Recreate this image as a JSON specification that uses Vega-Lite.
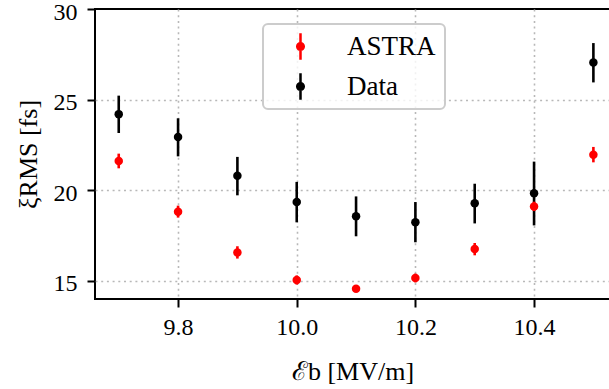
{
  "$schema": "https://vega.github.io/schema/vega-lite/v6.json",
  "autosize": {"type": "none"},
  "padding": {"left": 95, "top": 9, "right": 0, "bottom": 90},
  "width": 515,
  "height": 290,
  "background": "white",
  "config": {
    "font": "Liberation Serif",
    "view": {"stroke": "black", "strokeWidth": 2},
    "axis": {
      "domain": false,
      "grid": true,
      "gridColor": "#b8b8b8",
      "gridDash": [2, 3.7],
      "gridWidth": 1.6,
      "tickColor": "black",
      "tickWidth": 2,
      "tickSize": 8,
      "labelColor": "black",
      "labelFontSize": 24,
      "labelFont": "Liberation Serif",
      "titleFont": "Liberation Serif",
      "titleFontSize": 26,
      "titleFontWeight": "normal",
      "titleColor": "black"
    },
    "legend": {
      "labelFont": "Liberation Serif",
      "labelFontSize": 27,
      "labelColor": "black"
    }
  },
  "data": {
    "values": [
      {"E": 9.7, "series": "Data", "xi": 24.2, "lo": 23.16, "hi": 25.22},
      {"E": 9.8, "series": "Data", "xi": 22.94, "lo": 21.87, "hi": 23.97},
      {"E": 9.9, "series": "Data", "xi": 20.8, "lo": 19.72, "hi": 21.84},
      {"E": 10.0, "series": "Data", "xi": 19.35, "lo": 18.23, "hi": 20.46},
      {"E": 10.1, "series": "Data", "xi": 18.56, "lo": 17.46, "hi": 19.66},
      {"E": 10.2, "series": "Data", "xi": 18.23, "lo": 17.13, "hi": 19.35},
      {"E": 10.3, "series": "Data", "xi": 19.28, "lo": 18.17, "hi": 20.36},
      {"E": 10.4, "series": "Data", "xi": 19.83, "lo": 18.06, "hi": 21.58},
      {"E": 10.5, "series": "Data", "xi": 27.05, "lo": 25.95, "hi": 28.12},
      {"E": 9.7, "series": "ASTRA", "xi": 21.62, "lo": 21.21, "hi": 22.02},
      {"E": 9.8, "series": "ASTRA", "xi": 18.82, "lo": 18.49, "hi": 19.15},
      {"E": 9.9, "series": "ASTRA", "xi": 16.56, "lo": 16.23, "hi": 16.91},
      {"E": 10.0, "series": "ASTRA", "xi": 15.05, "lo": 14.8, "hi": 15.3},
      {"E": 10.1, "series": "ASTRA", "xi": 14.56, "lo": 14.4, "hi": 14.72},
      {"E": 10.2, "series": "ASTRA", "xi": 15.16, "lo": 14.92, "hi": 15.4},
      {"E": 10.3, "series": "ASTRA", "xi": 16.76, "lo": 16.41, "hi": 17.09},
      {"E": 10.4, "series": "ASTRA", "xi": 19.11, "lo": 18.85, "hi": 19.37},
      {"E": 10.5, "series": "ASTRA", "xi": 21.96, "lo": 21.54, "hi": 22.39}
    ]
  },
  "encoding": {
    "x": {
      "field": "E",
      "type": "quantitative",
      "scale": {"domain": [9.66, 10.528], "nice": false, "zero": false},
      "axis": {"values": [9.8, 10.0, 10.2, 10.4], "format": ".1f", "labelPadding": 8, "title": "ℰb [MV/m]", "titlePadding": 19}
    },
    "color": {
      "field": "series",
      "type": "nominal",
      "scale": {"domain": ["ASTRA", "Data"], "range": ["#ff0000", "#000000"]},
      "legend": {
        "title": null,
        "orient": "none",
        "legendX": 168,
        "legendY": 15,
        "padding": 9,
        "strokeColor": "#cccccc",
        "cornerRadius": 5,
        "fillColor": "rgba(255,255,255,0.8)",
        "symbolType": "M-0.094,-1L0.094,-1L0.094,1L-0.094,1Z M0.34,0A0.34,0.34,0,1,1,-0.34,0A0.34,0.34,0,1,1,0.34,0Z",
        "symbolSize": 713,
        "symbolStrokeWidth": 0,
        "symbolOffset": 15,
        "labelOffset": 33,
        "rowPadding": 12,
        "encode": {"legend": {"update": {"strokeWidth": {"value": 2}}}}
      }
    }
  },
  "layer": [
    {
      "mark": {"type": "rule", "strokeWidth": 2.6},
      "encoding": {
        "y": {"field": "lo", "type": "quantitative", "scale": {"domain": [14, 30], "nice": false, "zero": false},
          "axis": {"values": [15, 20, 25, 30], "labelPadding": 10, "labelOffset": 3, "title": "ξRMS [fs]", "titlePadding": 12,
            "gridOpacity": {"condition": {"test": "datum.value >= 30", "value": 0}, "value": 1}}},
        "y2": {"field": "hi"}
      }
    },
    {
      "mark": {"type": "point", "filled": true, "shape": "circle", "size": 72, "opacity": 1},
      "encoding": {
        "y": {"field": "xi", "type": "quantitative"}
      }
    }
  ]
}
